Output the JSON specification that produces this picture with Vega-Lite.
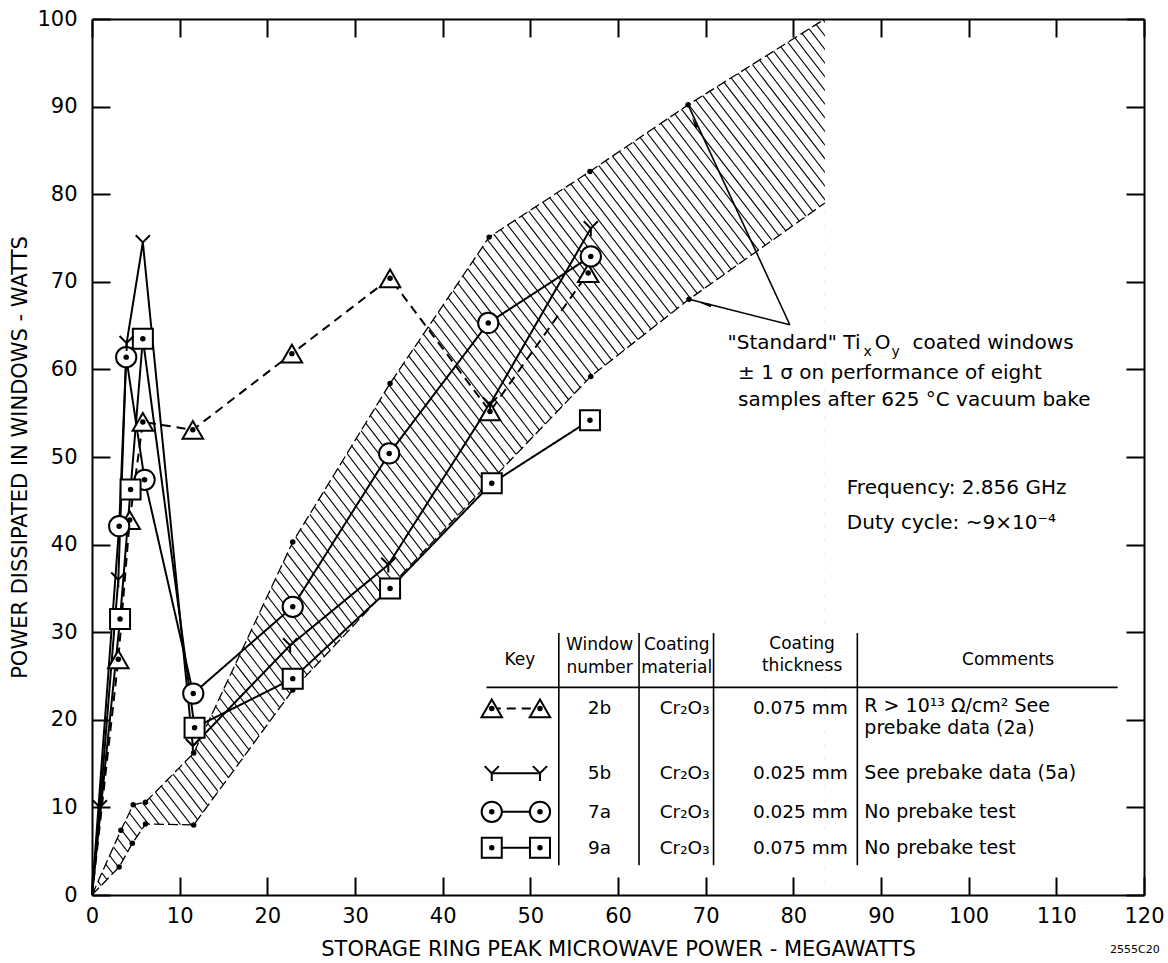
{
  "$schema": "https://vega.github.io/schema/vega-lite/v6.json",
  "width": 1052,
  "height": 876,
  "autosize": {"type": "none"},
  "padding": {"left": 92, "top": 19, "right": 24, "bottom": 68},
  "background": "white",
  "config": {
    "view": {"stroke": null},
    "font": "DejaVu Sans",
    "axis": {"grid": false, "domainColor": "black", "domainWidth": 2, "tickColor": "black", "tickWidth": 2, "tickSize": -18, "labelColor": "black", "labelFont": "DejaVu Sans", "labelFontSize": 21, "titleFont": "DejaVu Sans", "titleFontSize": 21, "titleFontWeight": "normal", "titleColor": "black", "labelFlush": false, "labelOverlap": false}
  },
  "resolve": {"axis": {"x": "independent", "y": "independent"}},
  "layer": [
    {
      "layer": [
        {
          "data": {"values": [-39,-37.8,-36.6,-35.4,-34.2,-33,-31.8,-30.6,-29.4,-28.2,-27,-25.8,-24.6,-23.4,-22.2,-21,-19.8,-18.6,-17.4,-16.2,-15,-13.8,-12.6,-11.4,-10.2,-9,-7.8,-6.6,-5.4,-4.2,-3,-1.8,-0.6,0.6,1.8,3,4.2,5.4,6.6,7.8,9,10.2,11.4,12.6,13.8,15,16.2,17.4,18.6,19.8,21,22.2,23.4,24.6,25.8,27,28.2,29.4,30.6,31.8,33,34.2,35.4,36.6,37.8,39,40.2,41.4,42.6,43.8,45,46.2,47.4,48.6,49.8,51,52.2,53.4,54.6,55.8,57,58.2,59.4,60.6,61.8,63,64.2,65.4,66.6,67.8,69,70.2,71.4,72.6,73.8,75,76.2,77.4,78.6,79.8,81,82.2,83.4,84.6,85.8,87,88.2,89.4,90.6,91.8,93,94.2,95.4,96.6,97.8,99,100.2,101.4,102.6,103.8,105,106.2,107.4,108.6,109.8,111,112.2,113.4,114.6,115.8,117,118.2,119.4,120.6,121.8,123]},
          "mark": {"type": "point", "shape": "M-0.77,-1L0.77,1", "size": 900000, "filled": false, "stroke": "black", "strokeWidth": 1.1, "opacity": 1, "clip": true},
          "encoding": {
            "x": {"field": "data", "type": "quantitative", "scale": {"domain": [0, 120]},
              "axis": {"orient": "bottom", "zindex": 2, "values": [0,10,20,30,40,50,60,70,80,90,100,110,120], "title": "STORAGE RING PEAK MICROWAVE POWER - MEGAWATTS", "labelPadding": 28, "titlePadding": 12}},
            "y": {"datum": 50, "type": "quantitative", "scale": {"domain": [0, 100]},
              "axis": {"orient": "left", "zindex": 2, "values": [0,10,20,30,40,50,60,70,80,90,100], "title": "POWER DISSIPATED IN WINDOWS - WATTS", "labelPadding": 33, "titlePadding": 6}}
          }
        },
        {
          "data": {"values": [{"x":0,"y":0},{"x":3.3,"y":7.4},{"x":4.7,"y":10.3},{"x":6.1,"y":10.6},{"x":11.6,"y":16.2},{"x":22.9,"y":40.3},{"x":34,"y":58.4},{"x":45.3,"y":75.1},{"x":56.8,"y":82.6},{"x":68,"y":90.2},{"x":83.6,"y":100}]},
          "mark": {"type": "area", "color": "white", "opacity": 1, "clip": true},
          "encoding": {
            "x": {"field": "x", "type": "quantitative", "scale": {"domain": [0, 120]}},
            "y": {"field": "y", "type": "quantitative", "scale": {"domain": [0, 100]}},
            "y2": {"datum": 105}
          }
        },
        {
          "data": {"values": [{"x":0,"y":0},{"x":3.1,"y":3.2},{"x":4.6,"y":5.9},{"x":6.1,"y":8.1},{"x":11.6,"y":8.0},{"x":22.9,"y":23.4},{"x":34,"y":35.2},{"x":45.5,"y":47.3},{"x":56.9,"y":59.2},{"x":68.1,"y":68.0},{"x":83.6,"y":79}]},
          "mark": {"type": "area", "color": "white", "opacity": 1, "clip": true},
          "encoding": {
            "x": {"field": "x", "type": "quantitative", "scale": {"domain": [0, 120]}},
            "y": {"field": "y", "type": "quantitative", "scale": {"domain": [0, 100]}},
            "y2": {"datum": -5}
          }
        },
        {
          "data": {"values": [{}]},
          "mark": {"type": "rect", "color": "white", "opacity": 1, "clip": true},
          "encoding": {
            "x": {"datum": 83.6, "type": "quantitative", "scale": {"domain": [0, 120]}},
            "x2": {"datum": 125},
            "y": {"datum": -5, "type": "quantitative", "scale": {"domain": [0, 100]}},
            "y2": {"datum": 105}
          }
        },
        {
          "data": {"values": [
            {"b":"u","x":0,"y":0},{"b":"u","x":3.3,"y":7.4},{"b":"u","x":4.7,"y":10.3},{"b":"u","x":6.1,"y":10.6},{"b":"u","x":11.6,"y":16.2},{"b":"u","x":22.9,"y":40.3},{"b":"u","x":34,"y":58.4},{"b":"u","x":45.3,"y":75.1},{"b":"u","x":56.8,"y":82.6},{"b":"u","x":68,"y":90.2},{"b":"u","x":83.6,"y":100},
            {"b":"l","x":0,"y":0},{"b":"l","x":3.1,"y":3.2},{"b":"l","x":4.6,"y":5.9},{"b":"l","x":6.1,"y":8.1},{"b":"l","x":11.6,"y":8.0},{"b":"l","x":22.9,"y":23.4},{"b":"l","x":34,"y":35.2},{"b":"l","x":45.5,"y":47.3},{"b":"l","x":56.9,"y":59.2},{"b":"l","x":68.1,"y":68.0},{"b":"l","x":83.6,"y":79}
          ]},
          "mark": {"type": "line", "color": "black", "strokeWidth": 1.3, "strokeDash": [10, 4], "clip": true},
          "encoding": {
            "x": {"field": "x", "type": "quantitative", "scale": {"domain": [0, 120]}},
            "y": {"field": "y", "type": "quantitative", "scale": {"domain": [0, 100]}},
            "detail": {"field": "b"}
          }
        },
        {
          "data": {"values": [
            {"x":3.3,"y":7.4},{"x":4.7,"y":10.3},{"x":6.1,"y":10.6},{"x":11.6,"y":16.2},{"x":22.9,"y":40.3},{"x":34,"y":58.4},{"x":45.3,"y":75.1},{"x":56.8,"y":82.6},{"x":68,"y":90.2},
            {"x":3.1,"y":3.2},{"x":4.6,"y":5.9},{"x":6.1,"y":8.1},{"x":11.6,"y":8.0},{"x":22.9,"y":23.4},{"x":56.9,"y":59.2},{"x":68.1,"y":68.0}
          ]},
          "mark": {"type": "point", "filled": true, "color": "black", "size": 30, "opacity": 1},
          "encoding": {
            "x": {"field": "x", "type": "quantitative", "scale": {"domain": [0, 120]}},
            "y": {"field": "y", "type": "quantitative", "scale": {"domain": [0, 100]}}
          }
        },
        {
          "data": {"name": "series"},
          "mark": {"type": "line", "color": "black", "strokeWidth": 2},
          "encoding": {
            "x": {"field": "x", "type": "quantitative", "scale": {"domain": [0, 120]}},
            "y": {"field": "y", "type": "quantitative", "scale": {"domain": [0, 100]}},
            "detail": {"field": "g"},
            "strokeDash": {"field": "s", "type": "nominal", "scale": {"domain": ["2b","5b","7a","9a"], "range": [[9,6],[1,0],[1,0],[1,0]]}, "legend": null}
          }
        },
        {
          "data": {"name": "series"},
          "transform": [{"filter": "datum.s != '5b' && datum.x > 0"}],
          "mark": {"type": "point", "filled": true, "fill": "white", "stroke": "black", "strokeWidth": 2, "opacity": 1},
          "encoding": {
            "x": {"field": "x", "type": "quantitative", "scale": {"domain": [0, 120]}},
            "y": {"field": "y", "type": "quantitative", "scale": {"domain": [0, 100]}},
            "shape": {"field": "s", "type": "nominal", "scale": {"domain": ["2b","7a","9a"], "range": ["triangle-up","circle","square"]}, "legend": null},
            "size": {"field": "s", "type": "nominal", "scale": {"domain": ["2b","7a","9a"], "range": [420, 400, 300]}, "legend": null}
          }
        },
        {
          "data": {"name": "series"},
          "transform": [{"filter": "datum.s == '5b' && datum.x > 0"}],
          "mark": {"type": "point", "shape": "M-1,-1L0,0L1,-1M0,0L0,1.1", "filled": false, "stroke": "black", "strokeWidth": 2, "size": 200, "opacity": 1},
          "encoding": {
            "x": {"field": "x", "type": "quantitative", "scale": {"domain": [0, 120]}},
            "y": {"field": "y", "type": "quantitative", "scale": {"domain": [0, 100]}}
          }
        },
        {
          "data": {"name": "series"},
          "transform": [{"filter": "datum.s != '5b' && datum.x > 0"}],
          "mark": {"type": "point", "filled": true, "color": "black", "size": 30, "opacity": 1},
          "encoding": {
            "x": {"field": "x", "type": "quantitative", "scale": {"domain": [0, 120]}},
            "y": {"field": "y", "type": "quantitative", "scale": {"domain": [0, 100]}}
          }
        },
        {
          "data": {"values": [{"x":79.6,"y":65.1,"x2":68.0,"y2":90.2},{"x":79.6,"y":65.1,"x2":68.1,"y2":68.0}]},
          "mark": {"type": "rule", "color": "black", "strokeWidth": 1.6},
          "encoding": {
            "x": {"field": "x", "type": "quantitative", "scale": {"domain": [0, 120]}},
            "y": {"field": "y", "type": "quantitative", "scale": {"domain": [0, 100]}},
            "x2": {"field": "x2"},
            "y2": {"field": "y2"}
          }
        },
        {
          "data": {"values": [{"x":68.8,"y":88.0}]},
          "mark": {"type": "point", "shape": "wedge", "filled": true, "color": "black", "size": 180, "angle": 335, "opacity": 1},
          "encoding": {
            "x": {"field": "x", "type": "quantitative", "scale": {"domain": [0, 120]}},
            "y": {"field": "y", "type": "quantitative", "scale": {"domain": [0, 100]}}
          }
        },
        {
          "data": {"values": [{"x":70.2,"y":67.4}]},
          "mark": {"type": "point", "shape": "wedge", "filled": true, "color": "black", "size": 180, "angle": 284, "opacity": 1},
          "encoding": {
            "x": {"field": "x", "type": "quantitative", "scale": {"domain": [0, 120]}},
            "y": {"field": "y", "type": "quantitative", "scale": {"domain": [0, 100]}}
          }
        },
        {
          "data": {"values": [
            {"x":45.0,"y":23.7,"x2":117.0,"y2":23.7},
            {"x":53.25,"y":29.9,"x2":53.25,"y2":3.4},
            {"x":62.4,"y":29.9,"x2":62.4,"y2":3.4},
            {"x":70.9,"y":29.9,"x2":70.9,"y2":3.4},
            {"x":87.3,"y":29.9,"x2":87.3,"y2":3.4}
          ]},
          "mark": {"type": "rule", "color": "black", "strokeWidth": 1.6},
          "encoding": {
            "x": {"field": "x", "type": "quantitative", "scale": {"domain": [0, 120]}},
            "y": {"field": "y", "type": "quantitative", "scale": {"domain": [0, 100]}},
            "x2": {"field": "x2"},
            "y2": {"field": "y2"}
          }
        },
        {
          "data": {"values": [
            {"x":48.8,"y":26.8,"t":"Key"},
            {"x":57.9,"y":28.5,"t":"Window"},{"x":57.9,"y":25.9,"t":"number"},
            {"x":66.7,"y":28.5,"t":"Coating"},{"x":66.7,"y":25.9,"t":"material"},
            {"x":81.0,"y":28.7,"t":"Coating"},{"x":81.0,"y":26.1,"t":"thickness"},
            {"x":104.5,"y":26.8,"t":"Comments"}
          ]},
          "mark": {"type": "text", "align": "center", "baseline": "middle", "fontSize": 17, "font": "DejaVu Sans", "color": "black"},
          "encoding": {
            "x": {"field": "x", "type": "quantitative", "scale": {"domain": [0, 120]}},
            "y": {"field": "y", "type": "quantitative", "scale": {"domain": [0, 100]}},
            "text": {"field": "t"}
          }
        },
        {
          "data": {"values": [
            {"x":57.9,"y":21.3,"t":"2b"},{"x":67.6,"y":21.3,"t":"Cr₂O₃"},{"x":80.8,"y":21.3,"t":"0.075 mm"},
            {"x":57.9,"y":13.9,"t":"5b"},{"x":67.6,"y":13.9,"t":"Cr₂O₃"},{"x":80.8,"y":13.9,"t":"0.025 mm"},
            {"x":57.9,"y":9.5,"t":"7a"},{"x":67.6,"y":9.5,"t":"Cr₂O₃"},{"x":80.8,"y":9.5,"t":"0.025 mm"},
            {"x":57.9,"y":5.4,"t":"9a"},{"x":67.6,"y":5.4,"t":"Cr₂O₃"},{"x":80.8,"y":5.4,"t":"0.075 mm"}
          ]},
          "mark": {"type": "text", "align": "center", "baseline": "middle", "fontSize": 18.5, "font": "DejaVu Sans", "color": "black"},
          "encoding": {
            "x": {"field": "x", "type": "quantitative", "scale": {"domain": [0, 120]}},
            "y": {"field": "y", "type": "quantitative", "scale": {"domain": [0, 100]}},
            "text": {"field": "t"}
          }
        },
        {
          "data": {"values": [
            {"x":88.1,"y":21.6,"t":"R > 10¹³ Ω/cm² See"},
            {"x":88.1,"y":19.1,"t":"prebake data (2a)"},
            {"x":88.1,"y":13.9,"t":"See prebake data (5a)"},
            {"x":88.1,"y":9.5,"t":"No prebake test"},
            {"x":88.1,"y":5.4,"t":"No prebake test"}
          ]},
          "mark": {"type": "text", "align": "left", "baseline": "middle", "fontSize": 19, "font": "DejaVu Sans", "color": "black"},
          "encoding": {
            "x": {"field": "x", "type": "quantitative", "scale": {"domain": [0, 120]}},
            "y": {"field": "y", "type": "quantitative", "scale": {"domain": [0, 100]}},
            "text": {"field": "t"}
          }
        },
        {
          "data": {"values": [
            {"x":72.5,"y":63.0,"t":"\"Standard\" Ti"},
            {"x":89.3,"y":63.0,"t":"O"},
            {"x":93.6,"y":63.0,"t":"coated windows"},
            {"x":73.7,"y":59.6,"t":"± 1 σ on performance of eight"},
            {"x":73.7,"y":56.5,"t":"samples after 625 °C vacuum bake"},
            {"x":86.1,"y":46.5,"t":"Frequency: 2.856 GHz"},
            {"x":86.1,"y":42.5,"t":"Duty cycle: ~9×10⁻⁴"}
          ]},
          "mark": {"type": "text", "align": "left", "baseline": "middle", "fontSize": 20, "font": "DejaVu Sans", "color": "black"},
          "encoding": {
            "x": {"field": "x", "type": "quantitative", "scale": {"domain": [0, 120]}},
            "y": {"field": "y", "type": "quantitative", "scale": {"domain": [0, 100]}},
            "text": {"field": "t"}
          }
        },
        {
          "data": {"values": [
            {"x":88.0,"y":62.0,"t":"x"},
            {"x":91.2,"y":62.0,"t":"y"}
          ]},
          "mark": {"type": "text", "align": "left", "baseline": "middle", "fontSize": 14, "font": "DejaVu Sans", "color": "black"},
          "encoding": {
            "x": {"field": "x", "type": "quantitative", "scale": {"domain": [0, 120]}},
            "y": {"field": "y", "type": "quantitative", "scale": {"domain": [0, 100]}},
            "text": {"field": "t"}
          }
        }
      ]
    },
    {
      "data": {"values": [{"x": 121.8, "y": -6.3, "t": "2555C20"}]},
      "mark": {"type": "text", "align": "right", "baseline": "middle", "fontSize": 11, "font": "DejaVu Sans", "color": "black"},
      "encoding": {
        "x": {"field": "x", "type": "quantitative", "scale": {"domain": [0, 120]},
          "axis": {"orient": "top", "zindex": 2, "values": [0,10,20,30,40,50,60,70,80,90,100,110,120], "labels": false, "title": null}},
        "y": {"field": "y", "type": "quantitative", "scale": {"domain": [0, 100]},
          "axis": {"orient": "right", "zindex": 2, "values": [0,10,20,30,40,50,60,70,80,90,100], "labels": false, "title": null}},
        "text": {"field": "t"}
      }
    }
  ],
  "datasets": {
    "series": [
      {"s":"2b","g":"2b","x":0,"y":0},{"s":"2b","g":"2b","x":3.0,"y":26.9},{"s":"2b","g":"2b","x":4.3,"y":42.8},{"s":"2b","g":"2b","x":5.8,"y":54.0},{"s":"2b","g":"2b","x":11.5,"y":53.1},{"s":"2b","g":"2b","x":22.8,"y":61.8},{"s":"2b","g":"2b","x":34.0,"y":70.4},{"s":"2b","g":"2b","x":45.4,"y":55.2},{"s":"2b","g":"2b","x":56.6,"y":71.0},
      {"s":"5b","g":"5b","x":0,"y":0},{"s":"5b","g":"5b","x":0.9,"y":10.0},{"s":"5b","g":"5b","x":3.0,"y":36.0},{"s":"5b","g":"5b","x":3.95,"y":63.0},{"s":"5b","g":"5b","x":5.8,"y":74.5},{"s":"5b","g":"5b","x":11.5,"y":17.0},{"s":"5b","g":"5b","x":22.6,"y":28.5},{"s":"5b","g":"5b","x":33.8,"y":37.7},{"s":"5b","g":"5b","x":45.4,"y":56.0},{"s":"5b","g":"5b","x":56.9,"y":76.1},
      {"s":"7a","g":"7a","x":0,"y":0},{"s":"7a","g":"7a","x":3.1,"y":42.1},{"s":"7a","g":"7a","x":3.9,"y":61.4},{"s":"7a","g":"7a","x":6.0,"y":47.4},{"s":"7a","g":"7a","x":11.55,"y":23.0},{"s":"7a","g":"7a","x":22.9,"y":32.9},{"s":"7a","g":"7a","x":33.9,"y":50.4},{"s":"7a","g":"7a","x":45.2,"y":65.3},{"s":"7a","g":"7a","x":56.9,"y":72.9},
      {"s":"9a","g":"9a","x":0,"y":0},{"s":"9a","g":"9a","x":3.2,"y":31.5},{"s":"9a","g":"9a","x":4.4,"y":46.3},{"s":"9a","g":"9a","x":5.8,"y":63.5},{"s":"9a","g":"9a","x":11.7,"y":19.1},{"s":"9a","g":"9a","x":22.9,"y":24.7},{"s":"9a","g":"9a","x":34.0,"y":35.0},{"s":"9a","g":"9a","x":45.6,"y":47.0},{"s":"9a","g":"9a","x":56.8,"y":54.2},
      {"s":"2b","g":"k2b","x":45.6,"y":21.3},{"s":"2b","g":"k2b","x":51.1,"y":21.3},
      {"s":"5b","g":"k5b","x":45.6,"y":13.9},{"s":"5b","g":"k5b","x":51.1,"y":13.9},
      {"s":"7a","g":"k7a","x":45.6,"y":9.5},{"s":"7a","g":"k7a","x":51.1,"y":9.5},
      {"s":"9a","g":"k9a","x":45.6,"y":5.4},{"s":"9a","g":"k9a","x":51.1,"y":5.4}
    ]
  }
}
